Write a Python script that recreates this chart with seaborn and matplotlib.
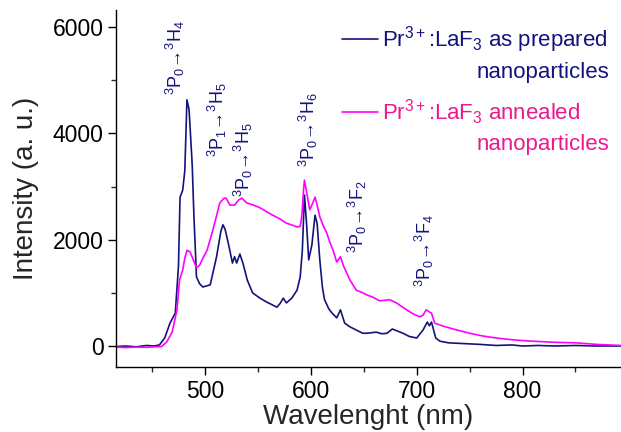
import numpy as np
import pandas as pd
import matplotlib
matplotlib.use("Agg")
import matplotlib.pyplot as plt
from matplotlib.ticker import MultipleLocator
from matplotlib.lines import Line2D
import seaborn as sns

# ---------------- data ----------------
prep_wl = [416, 425, 435, 445, 452, 457, 462, 467, 472, 475, 476.5, 479, 481, 483, 485,
           486.5, 488, 489.5, 492, 495, 498, 505, 511, 515, 517, 519, 522, 526, 528, 530,
           533, 536, 540, 545, 552, 558, 563, 568, 571, 574, 577, 582, 587, 590, 592, 594,
           596, 598, 601, 604, 606, 608.5, 611, 613, 617, 620, 624.5, 628, 632, 637, 643,
           649, 653, 662, 667, 672, 677, 682, 687, 693, 700, 706, 710, 712, 714, 716, 718,
           722, 730, 740, 750, 760, 775, 790, 800, 815, 830, 850, 870, 893]
prep_int = [-10, 0, -15, 10, 0, 20, 150, 430, 620, 1500, 2800, 2930, 3300, 4630, 4450,
            3930, 3400, 2500, 1300, 1170, 1110, 1150, 1680, 2150, 2280, 2200, 1940, 1560, 1680, 1560,
            1730, 1550, 1240, 1000, 900, 830, 780, 730, 800, 900, 810, 900, 1050, 1300, 1800, 2840,
            2300, 1620, 1900, 2460, 2300, 1620, 1100, 870, 700, 620, 530, 680, 430, 360, 300,
            240, 240, 260, 230, 240, 320, 280, 240, 180, 150, 300, 450, 380, 450, 300, 150,
            90, 60, 50, 40, 30, 10, 20, 0, 10, 0, 10, 0, 0]

ann_wl = [416, 425, 435, 445, 452, 459, 464, 469, 473.6, 476, 479, 481, 483, 486, 489,
          492, 495, 498, 502, 507.5, 511, 514, 518, 520, 523.6, 528, 532, 535, 539.6, 546,
          552, 558, 564, 570, 577, 583, 587, 590, 591.5, 593, 594, 596, 599, 601, 604,
          606, 608.5, 612, 615, 618, 621, 624.5, 628, 631, 634, 637, 643, 649, 653, 658.5,
          665, 670, 674.5, 681, 686, 690.6, 697, 703, 706, 709, 712, 714, 717, 724, 731,
          740, 750, 762, 775, 794, 810, 830, 850, 870, 893]
ann_int = [-20, -30, -20, -25, -15, -10, 80, 260, 680, 1240, 1430, 1650, 1800, 1770, 1620,
           1470, 1520, 1650, 1800, 2180, 2450, 2690, 2780, 2780, 2650, 2650, 2750, 2780, 2690, 2650,
           2600, 2530, 2460, 2400, 2310, 2270, 2240, 2250, 2430, 2900, 3120, 2900, 2560, 2650, 2800,
           2650, 2430, 2250, 2130, 1950, 1800, 1580, 1680, 1500, 1370, 1240, 1050, 1000, 960, 920,
           850, 860, 870, 810, 740, 680, 600, 550, 580, 680, 640, 620, 430, 380, 340,
           290, 240, 190, 150, 110, 90, 70, 60, 30, 10]

series_names = ["as prepared", "annealed"]

trans_labels = [r"$^3$P$_0$→$^3$H$_4$", r"$^3$P$_1$→$^3$H$_5$", r"$^3$P$_0$→$^3$H$_5$",
                r"$^3$P$_0$→$^3$H$_6$", r"$^3$P$_0$→$^3$F$_2$", r"$^3$P$_0$→$^3$F$_4$"]
trans_wl = [472.6, 512, 536, 598, 644, 707.5]
trans_y = [4720, 3555, 2800, 3370, 1750, 1110]

# ---------------- style ----------------
sns.set_theme(style="ticks")
plt.rcParams["font.family"] = ["Liberation Sans", "DejaVu Sans"]
plt.rcParams["mathtext.fontset"] = "custom"
plt.rcParams["mathtext.rm"] = "Liberation Sans"
plt.rcParams["mathtext.it"] = "Liberation Sans:italic"
plt.rcParams["mathtext.bf"] = "Liberation Sans:bold"

navy = "#13137c"
magenta = "#ff00ff"
pink_text = "#ea1a8c"

df = pd.concat([
    pd.DataFrame({"wl": prep_wl, "I": prep_int, "s": series_names[0]}),
    pd.DataFrame({"wl": ann_wl, "I": ann_int, "s": series_names[1]}),
], ignore_index=True)

fig = plt.figure(figsize=(6.21, 4.32), dpi=100)
ax = fig.add_axes([116 / 621, 1 - 367 / 432, (621 - 116) / 621, (367 - 10) / 432])

sns.lineplot(data=df, x="wl", y="I", hue="s", palette=[navy, magenta],
             estimator=None, sort=True, lw=1.2, ax=ax, legend=False)

ax.set_xlim(416, 893)
ax.set_ylim(-395, 6320)
ax.xaxis.set_major_locator(MultipleLocator(100))
ax.xaxis.set_minor_locator(MultipleLocator(50))
ax.yaxis.set_major_locator(MultipleLocator(2000))
ax.yaxis.set_minor_locator(MultipleLocator(1000))
ax.tick_params(which="major", length=6, width=1, direction="out", labelsize=16.5, pad=3, colors="black")
ax.tick_params(which="minor", length=3.5, width=1, direction="out")
for side in ["top", "right"]:
    ax.spines[side].set_visible(False)
for side in ["left", "bottom"]:
    ax.spines[side].set_color("black")
    ax.spines[side].set_linewidth(1)

ax.set_xlabel("Wavelenght (nm)", fontsize=20, labelpad=1)
ax.set_ylabel("Intensity (a. u.)", fontsize=20, labelpad=10)

for lab, x, y in zip(trans_labels, trans_wl, trans_y):
    ax.text(x, y, lab, rotation=90, ha="center", va="bottom", fontsize=13, color=navy)

# legend
handles = [Line2D([], [], color=navy, lw=1.2), Line2D([], [], color=magenta, lw=1.2)]
labels = [r"Pr$^{3+}$:LaF$_3$ as prepared", r"Pr$^{3+}$:LaF$_3$ annealed"]
leg = ax.legend(handles, labels, loc="upper left", bbox_to_anchor=(0.43, 0.985),
                frameon=False, fontsize=16, handlelength=1.6, handletextpad=0.2,
                labelspacing=1.9, borderaxespad=0.0)
texts = leg.get_texts()
texts[0].set_color(navy)
texts[1].set_color(pink_text)
for t, c in zip(texts, [navy, pink_text]):
    ax.annotate("nanoparticles", xy=(0, 0), xycoords=t, xytext=(95, -7),
                textcoords="offset pixels", ha="left", va="top", fontsize=16, color=c,
                zorder=10)

fig.savefig("out.png", dpi=100, facecolor="white")
